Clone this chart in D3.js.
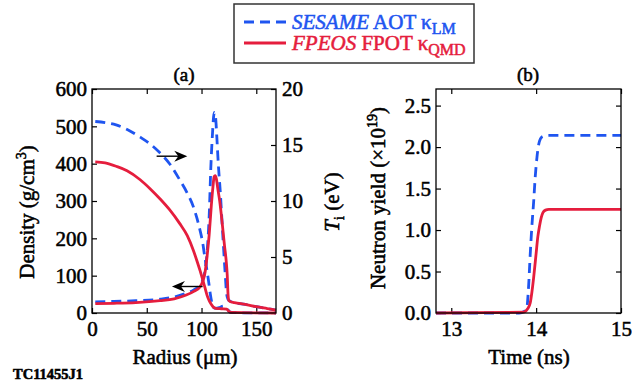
<!DOCTYPE html>
<html>
<head>
<meta charset="utf-8">
<script src="https://cdn.jsdelivr.net/npm/d3@7"></script>
<style>
  html, body { margin: 0; padding: 0; background: #fff; }
  svg { display: block; }
  svg text { font-family: "Liberation Serif", "Times New Roman", serif; stroke-width: 0.55px; }
</style>
</head>
<body>
<svg id="chart" width="632" height="391"></svg>
<script>
// ---- Panel (a): ion temperature profiles (right axis, eV) ----
const radiusTiSesame = [3, 12, 22, 33, 44, 53, 62, 71, 80, 87, 92.5, 96, 98.6, 101, 103, 105, 106.5, 108, 109.5, 111, 113, 116, 120, 122, 124, 126, 130, 168];
const tiSesame       = [17.1, 17.0, 16.8, 16.35, 15.7, 15.1, 14.3, 13.3, 11.9, 10.7, 9.5, 8.4, 7.4, 6.3, 5.0, 3.8, 2.8, 1.7, 0.9, 0.5, 0.42, 0.48, 0.62, 0.5, 0.3, 0.08, 0.03, 0.0];
const radiusTiFpeos  = [3, 12, 22, 32, 44, 53, 62, 71, 80, 87, 92.5, 96, 98.6, 101, 103, 105, 107, 109, 111, 113, 118, 123, 125, 127, 168];
const tiFpeos        = [13.5, 13.4, 13.1, 12.7, 11.9, 11.1, 10.2, 9.2, 8.0, 6.9, 5.6, 4.6, 3.8, 3.0, 2.3, 1.6, 1.1, 0.75, 0.5, 0.42, 0.38, 0.35, 0.15, 0.05, 0.0];

// ---- Panel (a): density profiles (left axis, g/cm^3) ----
const radiusRhoSesame = [3, 20, 40, 62, 75, 86, 93, 98.6, 101, 103, 105, 107, 108.5, 110, 111, 111.8, 112.8, 114, 115.3, 117, 119.6, 121.5, 122.8, 124, 126, 130, 140, 150, 160, 168];
const rhoSesame       = [30, 31, 33, 37, 43, 53, 62, 75, 88, 110, 160, 260, 390, 480, 525, 537, 525, 470, 400, 330, 200, 110, 55, 38, 32, 28, 23, 17, 12, 8];
const radiusRhoFpeos  = [3, 20, 40, 62, 75, 86, 93, 98.6, 101, 103, 105, 107, 109, 110.5, 111.5, 112.5, 113.5, 115, 116.6, 118, 119.6, 121, 122.5, 123.5, 124.2, 125, 126, 130, 140, 150, 160, 168];
const rhoFpeos        = [25, 26, 28, 33, 38, 48, 58, 70, 84, 105, 150, 210, 290, 340, 365, 368, 360, 330, 300, 265, 220, 180, 140, 100, 50, 33, 31, 28, 23, 17, 12, 8];

// ---- Panel (b): cumulative neutron yield (x10^19) ----
const timeSesame  = [12.82, 13.80, 13.86, 13.89, 13.91, 13.93, 13.95, 13.97, 13.99, 14.01, 14.03, 14.05, 14.08, 14.12, 15.0];
const yieldSesame = [0, 0, 0.02, 0.06, 0.3, 0.7, 1.05, 1.33, 1.65, 1.88, 2.03, 2.1, 2.13, 2.14, 2.14];
const timeFpeos   = [12.82, 13.85, 13.90, 13.93, 13.95, 13.97, 14.00, 14.02, 14.04, 14.06, 14.08, 14.11, 14.15, 15.0];
const yieldFpeos  = [0, 0.01, 0.05, 0.12, 0.25, 0.42, 0.72, 0.92, 1.05, 1.15, 1.21, 1.24, 1.25, 1.25];

// Axis ticks
const radiusTicks  = [0, 50, 100, 150];
const densityTicks = [0, 100, 200, 300, 400, 500, 600];
const tiTicks      = [0, 5, 10, 15, 20];
const timeTicks    = [13, 14, 15];
const yieldTicks   = [0, 0.5, 1.0, 1.5, 2.0, 2.5];

// Annotation arrows: [r start, r end, density level]
const arrowToTi  = [59, 87, 420];
const arrowToRho = [101, 73, 71];

const BLUE = "#1f55f0";
const RED  = "#e51d3d";
const DASH = "10,6";
const TICK_FONT = 21;
const FONT = "'Liberation Serif', 'Times New Roman', serif";

const svg = d3.select("#chart");

// Scales
const xA   = d3.scaleLinear().domain([0, 168]).range([92, 276]);
const yRho = d3.scaleLinear().domain([0, 600]).range([313, 89]);
const yTi  = d3.scaleLinear().domain([0, 20]).range([313, 89]);
const xB   = d3.scaleLinear().domain([12.82, 15]).range([436, 621]);
const yB   = d3.scaleLinear().domain([0, 2.7]).range([313, 89]);

function styleAxis(g, labels) {
  g.attr("font-family", FONT).attr("font-size", TICK_FONT);
  g.select(".domain").remove();
  g.selectAll(".tick line").attr("stroke", "#000").attr("stroke-width", 1.2);
  g.selectAll(".tick text")
    .attr("fill", "#000").attr("stroke", "#000")
    .style("font-size", TICK_FONT + "px")
    .style("font-family", FONT);
  if (!labels) g.selectAll(".tick text").remove();
}

function frame(x, y) {
  svg.append("rect")
    .attr("x", x.range()[0]).attr("y", y.range()[1])
    .attr("width", x.range()[1] - x.range()[0])
    .attr("height", y.range()[0] - y.range()[1])
    .attr("fill", "none").attr("stroke", "#000").attr("stroke-width", 1.3);
}

// ---------- Panel (a) ----------
svg.append("g").attr("transform", `translate(${xA.range()[0]},0)`)
  .call(d3.axisLeft(yRho).tickValues(densityTicks).tickFormat(d3.format("d")).tickSizeInner(-5).tickSizeOuter(0).tickPadding(5))
  .call(g => styleAxis(g, true));
svg.append("g").attr("transform", `translate(${xA.range()[1]},0)`)
  .call(d3.axisRight(yTi).tickValues(tiTicks).tickFormat(d3.format("d")).tickSizeInner(-5).tickSizeOuter(0).tickPadding(6))
  .call(g => styleAxis(g, true));
svg.append("g").attr("transform", `translate(0,${yRho.range()[0]})`)
  .call(d3.axisBottom(xA).tickValues(radiusTicks).tickFormat(d3.format("d")).tickSizeInner(-5).tickSizeOuter(0).tickPadding(8))
  .call(g => styleAxis(g, true));
svg.append("g").attr("transform", `translate(0,${yRho.range()[1]})`)
  .call(d3.axisTop(xA).tickValues(radiusTicks).tickSizeInner(-5).tickSizeOuter(0))
  .call(g => styleAxis(g, false));

const lineTi  = d3.line().x(d => xA(d[0])).y(d => yTi(d[1])).curve(d3.curveMonotoneX);
const lineRho = d3.line().x(d => xA(d[0])).y(d => yRho(d[1])).curve(d3.curveMonotoneX);
const zip = (a, b) => a.map((v, i) => [v, b[i]]);

const plotA = svg.append("g");
plotA.append("path").datum(zip(radiusTiSesame, tiSesame)).attr("d", lineTi)
  .attr("fill", "none").attr("stroke", BLUE).attr("stroke-width", 2.8).attr("stroke-dasharray", DASH);
plotA.append("path").datum(zip(radiusRhoSesame, rhoSesame)).attr("d", lineRho)
  .attr("fill", "none").attr("stroke", BLUE).attr("stroke-width", 2.8).attr("stroke-dasharray", DASH);
plotA.append("path").datum(zip(radiusTiFpeos, tiFpeos)).attr("d", lineTi)
  .attr("fill", "none").attr("stroke", RED).attr("stroke-width", 2.8);
plotA.append("path").datum(zip(radiusRhoFpeos, rhoFpeos)).attr("d", lineRho)
  .attr("fill", "none").attr("stroke", RED).attr("stroke-width", 2.8);

function arrow(spec) {
  const x1 = xA(spec[0]), x2 = xA(spec[1]), y = yRho(spec[2]);
  const dir = Math.sign(x2 - x1);
  svg.append("line").attr("x1", x1).attr("y1", y).attr("x2", x2 - dir * 8).attr("y2", y)
    .attr("stroke", "#000").attr("stroke-width", 1.4);
  svg.append("path")
    .attr("d", `M${x2},${y} L${x2 - dir * 13},${y - 5.5} L${x2 - dir * 9},${y} L${x2 - dir * 13},${y + 5.5} Z`)
    .attr("fill", "#000");
}
arrow(arrowToTi);
arrow(arrowToRho);

frame(xA, yRho);

// ---------- Panel (b) ----------
svg.append("g").attr("transform", `translate(${xB.range()[0]},0)`)
  .call(d3.axisLeft(yB).tickValues(yieldTicks).tickFormat(d3.format(".1f")).tickSizeInner(-5).tickSizeOuter(0).tickPadding(5))
  .call(g => styleAxis(g, true));
svg.append("g").attr("transform", `translate(${xB.range()[1]},0)`)
  .call(d3.axisRight(yB).tickValues(yieldTicks).tickSizeInner(-5).tickSizeOuter(0))
  .call(g => styleAxis(g, false));
svg.append("g").attr("transform", `translate(0,${yB.range()[0]})`)
  .call(d3.axisBottom(xB).tickValues(timeTicks).tickFormat(d3.format("d")).tickSizeInner(-5).tickSizeOuter(0).tickPadding(8))
  .call(g => styleAxis(g, true));
svg.append("g").attr("transform", `translate(0,${yB.range()[1]})`)
  .call(d3.axisTop(xB).tickValues(timeTicks).tickSizeInner(-5).tickSizeOuter(0))
  .call(g => styleAxis(g, false));

const lineB = d3.line().x(d => xB(d[0])).y(d => yB(d[1])).curve(d3.curveMonotoneX);
svg.append("path").datum(zip(timeSesame, yieldSesame)).attr("d", lineB)
  .attr("fill", "none").attr("stroke", BLUE).attr("stroke-width", 2.8).attr("stroke-dasharray", DASH);
svg.append("path").datum(zip(timeFpeos, yieldFpeos)).attr("d", lineB)
  .attr("fill", "none").attr("stroke", RED).attr("stroke-width", 2.8);

frame(xB, yB);

// ---------- Titles and axis labels ----------
const labelFont = 21;
function txt(x, y, opts = {}) {
  return svg.append("text").attr("x", x).attr("y", y)
    .attr("text-anchor", opts.anchor || "middle")
    .style("font-size", (opts.size || labelFont) + "px")
    .attr("fill", "#000").attr("stroke", "#000");
}

txt(184, 81, { size: 19 }).text("(a)");
txt(528, 81, { size: 19 }).text("(b)");

txt(185, 364).text("Radius (\u03bcm)");
txt(529, 364).text("Time (ns)");

function rotLabel(x, y) {
  return svg.append("text").attr("transform", `translate(${x},${y}) rotate(-90)`)
    .attr("text-anchor", "middle").style("font-size", labelFont + "px")
    .attr("fill", "#000").attr("stroke", "#000");
}

// Density label
const dens = rotLabel(34, 212);
dens.append("tspan").text("Density (g/cm");
dens.append("tspan").attr("dy", -8).style("font-size", "14px").text("3");
dens.append("tspan").attr("dy", 8).text(")");

// Ti label
const ti = rotLabel(339, 202);
ti.append("tspan").style("font-style", "italic").text("T");
ti.append("tspan").attr("dy", 5).style("font-size", "14px").text("i");
ti.append("tspan").attr("dy", -5).text(" (eV)");

// Neutron yield label
const ny = rotLabel(385, 198);
ny.append("tspan").text("Neutron yield (\u00d710");
ny.append("tspan").attr("dy", -8).style("font-size", "14px").text("19");
ny.append("tspan").attr("dy", 8).text(")");

svg.append("text").attr("x", 13).attr("y", 379)
  .style("font-size", "14.5px").style("font-weight", "bold")
  .attr("fill", "#000").attr("stroke", "#000").attr("stroke-width", 0.3)
  .text("TC11455J1");

// ---------- Legend ----------
const legend = svg.append("g");
legend.append("rect").attr("x", 234).attr("y", 4).attr("width", 240).attr("height", 59)
  .attr("fill", "#fff").attr("stroke", "#333").attr("stroke-width", 1.5);

const legendRows = [
  { color: BLUE, dash: DASH, eos: "SESAME", opac: " AOT ", sub: "LM", y: 22 },
  { color: RED, dash: null, eos: "FPEOS", opac: " FPOT ", sub: "QMD", y: 43 }
];
legendRows.forEach(r => {
  legend.append("line").attr("x1", 244).attr("x2", 286).attr("y1", r.y).attr("y2", r.y)
    .attr("stroke", r.color).attr("stroke-width", 2.8).attr("stroke-dasharray", r.dash);
  const t = legend.append("text").attr("x", 292).attr("y", r.y + 7)
    .style("font-size", "21px").attr("fill", r.color).attr("stroke", r.color);
  t.append("tspan").style("font-style", "italic").text(r.eos);
  t.append("tspan").text(r.opac + "\u03ba");
  t.append("tspan").attr("dy", 5).style("font-size", "16px").text(r.sub);
});
</script>
</body>
</html>
